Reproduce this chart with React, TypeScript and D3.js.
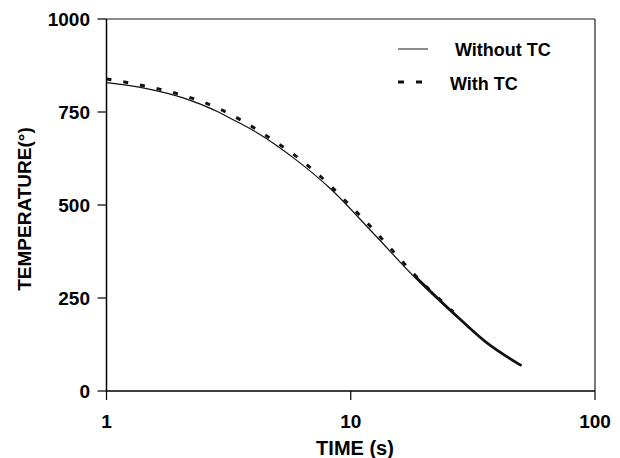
import React from "react";
import * as d3 from "d3";

const timeWithout = [1, 1.46, 2.06, 2.87, 3.2, 4.12, 6.01, 8.22, 12.37, 18.62, 26.3, 36, 50];
const tempWithout = [829, 813, 788, 750, 734, 695, 620, 545, 424, 300, 207, 130, 68];

const timeWith = [1, 1.23, 1.46, 1.74, 2.06, 2.44, 2.87, 3.61, 4.77, 6.07, 8.17, 9.23, 11.26, 14.5, 18.5, 26.3, 36, 50];
const tempWith = [836, 826, 816, 805, 792, 776, 757, 723, 673, 625, 552, 517, 460, 382, 306, 210, 130, 68];

const xTicks = [1, 10, 100];
const xTickLabels = ["1", "10", "100"];
const yTicks = [0, 250, 500, 750, 1000];

const legendLabels = ["Without TC", "With TC"];
const xTitle = "TIME (s)";
const yTitle = "TEMPERATURE(°)";

const W = 620;
const H = 458;
const left = 106.5;
const right = 595;
const top = 19;
const bottom = 391;
const FONT = "'Liberation Sans', Arial, Helvetica, sans-serif";

export default function App() {
  const x = d3.scaleLog().domain([1, 100]).range([left, right]);
  const y = d3.scaleLinear().domain([0, 1000]).range([bottom, top]);

  const line = d3
    .line<[number, number]>()
    .x((d) => x(d[0]))
    .y((d) => y(d[1]))
    .curve(d3.curveMonotoneX);

  const solidData: [number, number][] = timeWithout.map((t, i) => [t, tempWithout[i]]);
  const dashData: [number, number][] = timeWith.map((t, i) => [t, tempWith[i]]);
  const dashUpper = dashData.filter((d) => d[0] <= 26.3);
  const dashLower = dashData.filter((d) => d[0] >= 18.5);

  return (
    <svg
      width={W}
      height={H}
      style={{ position: "absolute", left: 0, top: 0, background: "#fff" }}
      fontFamily={FONT}
    >
      <rect x={0} y={0} width={W} height={H} fill="#fff" />
      {/* frame */}
      <line x1={left} x2={right} y1={top} y2={top} stroke="#666" strokeWidth={1.3} />
      <line x1={right} x2={right} y1={top} y2={bottom} stroke="#222" strokeWidth={1.2} />
      <line x1={left} x2={left} y1={top} y2={bottom + 1} stroke="#000" strokeWidth={1.5} />
      <line x1={left} x2={right} y1={bottom} y2={bottom} stroke="#000" strokeWidth={1.5} />

      {/* y ticks */}
      {yTicks.map((v) => (
        <g key={"y" + v}>
          <line x1={left - 9} x2={left} y1={y(v)} y2={y(v)} stroke="#000" strokeWidth={1.2} />
          <text x={90} y={y(v)} dy="0.36em" textAnchor="end" fontSize={19} fontWeight="bold">
            {v}
          </text>
        </g>
      ))}

      {/* x ticks */}
      {xTicks.map((v, i) => (
        <g key={"x" + v}>
          <line x1={x(v)} x2={x(v)} y1={bottom} y2={bottom + 9} stroke="#000" strokeWidth={1.2} />
          <text x={x(v)} y={427.5} textAnchor="middle" fontSize={19} fontWeight="bold">
            {xTickLabels[i]}
          </text>
        </g>
      ))}

      {/* titles */}
      <text x={355} y={455} textAnchor="middle" fontSize={20} fontWeight="bold">
        {xTitle}
      </text>
      <text transform={`translate(31,209) rotate(-90)`} textAnchor="middle" fontSize={19} fontWeight="bold">
        {yTitle}
      </text>

      {/* curves */}
      <path d={line(solidData) || ""} fill="none" stroke="#111" strokeWidth={1.2} />
      <path
        d={line(dashUpper) || ""}
        fill="none"
        stroke="#111"
        strokeWidth={3}
        strokeDasharray="5 12"
        transform="translate(0,-1)"
      />
      <path d={line(dashLower) || ""} fill="none" stroke="#111" strokeWidth={2.6} />

      {/* legend */}
      <line x1={398} x2={428} y1={49} y2={49} stroke="#666" strokeWidth={1.5} />
      <text x={455} y={56} fontSize={18} fontWeight="bold">
        {legendLabels[0]}
      </text>
      <line x1={398} x2={422} y1={82} y2={82} stroke="#111" strokeWidth={3} strokeDasharray="6 12" />
      <text x={450} y={90} fontSize={18} fontWeight="bold">
        {legendLabels[1]}
      </text>
    </svg>
  );
}
